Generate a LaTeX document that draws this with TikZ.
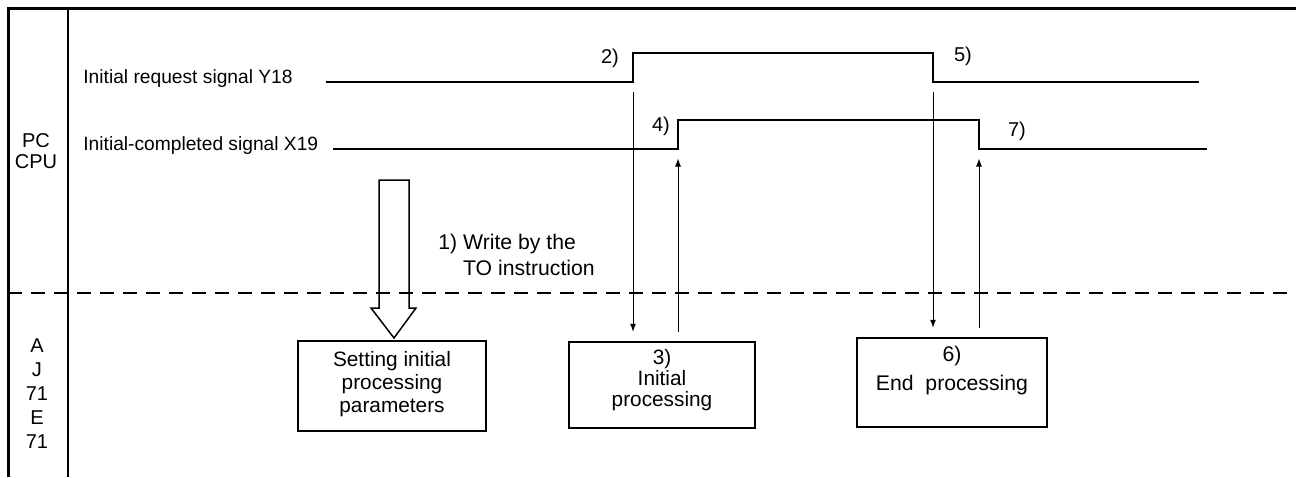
\documentclass[tikz,border=0pt]{standalone}
\usepackage{fontspec}
\setmainfont{Liberation Sans}
\usetikzlibrary{arrows.meta}

\def\reqlo{82}
\def\cmplo{149}

\begin{document}
\begin{tikzpicture}[x=0.5pt, y=-0.5pt, font=\fontsize{10}{11.5}\selectfont,
        signal/.style={line width=1pt},
        handshake/.style={line width=0.5pt, -{Latex[length=4pt, width=3pt]}, shorten <=4.75pt, shorten >=4.75pt},
        procbox/.style={draw, line width=0.75pt, inner sep=0pt},
        steplabel/.style={inner sep=0pt, anchor=base}]
            \useasboundingbox (0, 0) rectangle (1296, 477);

            % frame and the PC / module split
            \draw[line width=1.5pt] (8, 477) -- (8, 8) -- (1296, 8);
            \draw[line width=0.75pt] (68, 8) -- (68, 477);
            \draw[line width=0.75pt, dash pattern=on 7pt off 4.5pt] (8, 293) -- (1296, 293);

            \node[steplabel] (pc) at (36, 147) {PC};
            \node[steplabel] (cpu) at (36, 168) {CPU};
            \foreach \t [count=\i] in {A, J, 71, E, 71}
                \node[steplabel] (mod\i) at (37, 328 + 24 * \i) {\t};

            % signals
            \node[steplabel, anchor=base west, font=\fontsize{9.6}{11}\selectfont] (reqname) at (83, 83) {Initial request signal Y18};
            \node[steplabel, anchor=base west, font=\fontsize{9.6}{11}\selectfont] (cmpname) at (83, 150) {Initial-completed signal X19};
            \draw[signal] (326, \reqlo) coordinate (reqstart) -- (633, \reqlo) coordinate (reqon)
                -- ++(0, -29) -| (933, \reqlo) coordinate (reqoff) -- (1199, \reqlo) coordinate (reqend);
            \draw[signal] (333, \cmplo) coordinate (cmpstart) -- (678, \cmplo) coordinate (cmpon)
                -- ++(0, -29) -| (979, \cmplo) coordinate (cmpoff) -- (1207, \cmplo) coordinate (cmpend);

            \node[steplabel] (s2) at (610, 63) {2)};
            \node[steplabel] (s4) at (661, 131) {4)};
            \node[steplabel] (s5) at (963, 61) {5)};
            \node[steplabel] (s7) at (1017, 136) {7)};

            % module side
            \node[procbox, minimum width=94pt, minimum height=45pt] (setbox) at (392, 386) {};
            \node[align=center, anchor=north, inner sep=0pt, font=\fontsize{10.4}{11.5}\selectfont] (settxt) at (392, 351) {Setting initial\\processing\\parameters};
            \node[procbox, minimum width=93pt, minimum height=43pt] (initbox) at (662, 385) {};
            \node[align=center, anchor=north, inner sep=0pt, font=\fontsize{10.4}{10.5}\selectfont] (inittxt) at (662, 349) {3)\\Initial\\processing};
            \node[procbox, minimum width=95pt, minimum height=44.5pt] (endbox) at (952, 382.5) {};
            \node[align=center, anchor=north, inner sep=0pt, font=\fontsize{10.6}{14.5}\selectfont] (endtxt) at (952, 346) {6)\\End\ \ processing};

            % write by TO
            \draw[line width=0.75pt] (379, 180) -- (379, 308) -- (371, 308) -- (394, 338)
                -- (416, 308) -- (409, 308) -- (409, 180) -- cycle;
            \node[align=left, anchor=north west, inner sep=0pt, font=\fontsize{10.6}{13}\selectfont] (towrite) at (438, 234)
                {1) Write by the\\\phantom{1) }TO instruction};

            \draw[handshake] (reqon) -- (reqon |- initbox.north);
            \draw[handshake] (cmpon |- initbox.north) -- (cmpon);
            \draw[handshake] (reqoff) -- (reqoff |- endbox.north);
            \draw[handshake] (cmpoff |- endbox.north) -- (cmpoff);
        \end{tikzpicture}
\end{document}
